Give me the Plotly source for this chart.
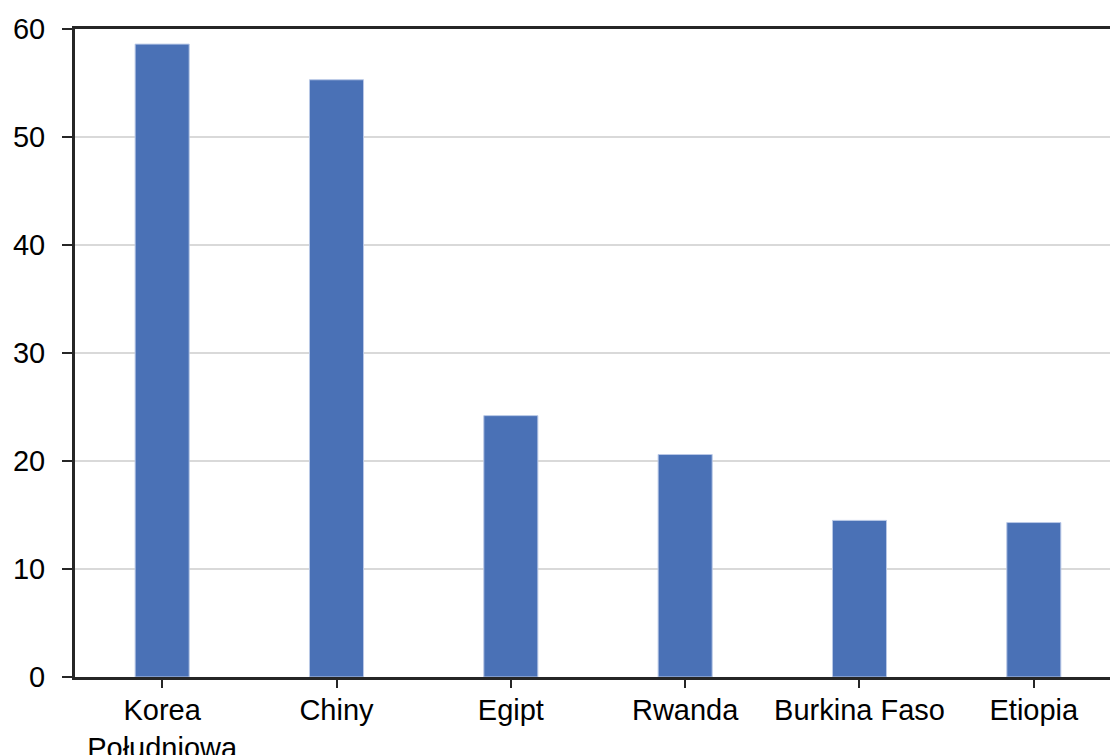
import plotly.graph_objects as go

# Country values
countries = ["Korea<br>Południowa", "Chiny", "Egipt", "Rwanda", "Burkina Faso", "Etiopia"]
values = [58.6, 55.3, 24.2, 20.6, 14.5, 14.3]
y_ticks = [0, 10, 20, 30, 40, 50, 60]

fig = go.Figure()

fig.add_trace(go.Bar(
    x=list(range(len(countries))),
    y=values,
    width=0.31,
    marker=dict(color="#4a71b6", line=dict(color="#b9c8e6", width=1)),
    hoverinfo="y",
))

fig.update_layout(
    width=1110,
    height=755,
    margin=dict(l=75, r=0, t=29, b=78),
    plot_bgcolor="white",
    paper_bgcolor="white",
    font=dict(family="Liberation Sans, Arial, sans-serif", size=29, color="#000000"),
    showlegend=False,
    bargap=0.5,
)

fig.update_xaxes(
    tickmode="array",
    tickvals=list(range(len(countries))),
    ticktext=countries,
    range=[-0.5, 5.437],
    showline=True,
    linecolor="#262626",
    linewidth=3,
    mirror=True,
    ticks="outside",
    tickson="boundaries",
    ticklen=8,
    tickwidth=2,
    tickcolor="#262626",
    showgrid=False,
    zeroline=False,
    ticklabelstandoff=-3,
    automargin=False,
)

fig.update_yaxes(
    range=[0, 60],
    tickvals=y_ticks,
    showline=True,
    linecolor="#262626",
    linewidth=3,
    ticks="outside",
    ticklen=10,
    tickwidth=2,
    tickcolor="#262626",
    showgrid=True,
    gridcolor="#d9d9d9",
    gridwidth=2,
    zeroline=False,
    ticklabelstandoff=11,
    automargin=False,
)

# remove the default page margin so the figure sits at the window's corner
fig.write_html(
    "out.html",
    config={"displayModeBar": False},
    post_script="document.body.style.margin='0';",
)
